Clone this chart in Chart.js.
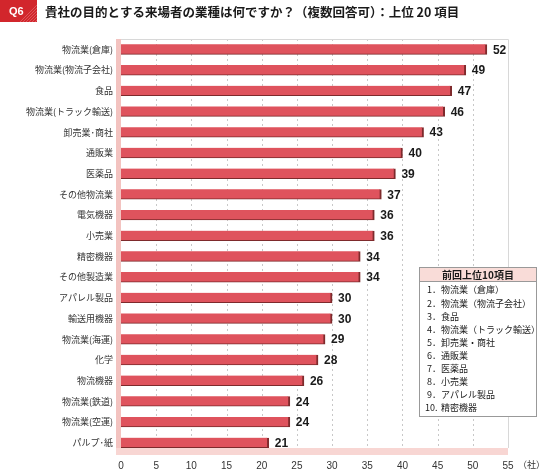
<!DOCTYPE html>
<html>
<head>
<meta charset="utf-8">
<script src="https://cdn.jsdelivr.net/npm/chart.js@4"></script>
<style>
  html, body { margin: 0; padding: 0; background: #fff; }
  #wrap { width: 541px; height: 469px; position: relative; }
</style>
</head>
<body>
<div id="wrap"><canvas id="chart" width="541" height="469"></canvas></div>
<script>
// categories and values, top to bottom
const categories = [
    '物流業(倉庫)', '物流業(物流子会社)', '食品', '物流業(トラック輸送)', '卸売業･商社',
    '通販業', '医薬品', 'その他物流業', '電気機器', '小売業',
    '精密機器', 'その他製造業', 'アパレル製品', '輸送用機器', '物流業(海運)',
    '化学', '物流機器', '物流業(鉄道)', '物流業(空運)', 'パルプ･紙'
];
const counts = [52, 49, 47, 46, 43, 40, 39, 37, 36, 36, 34, 34, 30, 30, 29, 28, 26, 24, 24, 21];
const xTicks = [0, 5, 10, 15, 20, 25, 30, 35, 40, 45, 50, 55];
const titleText = '貴社の目的とする来場者の業種は何ですか？（複数回答可）：上位 20 項目';
const prevTitle = '前回上位10項目';
const prevTop10 = [
    '物流業（倉庫）', '物流業（物流子会社）', '食品', '物流業（トラック輸送）', '卸売業・商社',
    '通販業', '医薬品', '小売業', 'アパレル製品', '精密機器'
];

const jpFont = '"Noto Sans CJK JP", "Noto Sans", sans-serif';
const numFont = '"Liberation Sans", Arial, sans-serif';

// dashed grid, pink wall / floor, frame lines, title and the inset box
const decorPlugin = {
    id: 'decor',
    beforeDatasetsDraw(chart) {
        const ctx = chart.ctx;
        const a = chart.chartArea;
        const xs = chart.scales.x;
        ctx.save();
        // dashed vertical grid
        ctx.strokeStyle = '#c8c8c8';
        ctx.lineWidth = 1;
        ctx.setLineDash([2, 3]);
        xTicks.slice(1, -1).forEach(function(v) {
            const px = Math.round(xs.getPixelForValue(v)) + 0.5;
            ctx.beginPath();
            ctx.moveTo(px, a.top);
            ctx.lineTo(px, a.bottom - 5);
            ctx.stroke();
        });
        ctx.setLineDash([]);
        ctx.fillStyle = '#f3c3c0';
        ctx.fillRect(a.left - 5, a.top, 5, a.bottom - a.top + 2);
        ctx.fillStyle = '#f8d6d3';
        ctx.fillRect(a.left - 5, a.bottom - 5, a.right - a.left + 5, 7);
        ctx.strokeStyle = '#d8d8d8';
        ctx.beginPath();
        ctx.moveTo(a.left, a.top + 0.5);
        ctx.lineTo(a.right + 0.5, a.top + 0.5);
        ctx.lineTo(a.right + 0.5, a.bottom - 5);
        ctx.stroke();
        ctx.restore();
    },
    afterDatasetsDraw(chart) {
        const ctx = chart.ctx;
        const meta = chart.getDatasetMeta(0);
        ctx.save();
        ctx.fillStyle = '#1a1a1a';
        ctx.font = 'bold 12px ' + numFont;
        ctx.textAlign = 'left';
        ctx.textBaseline = 'middle';
        meta.data.forEach(function(bar, i) {
            ctx.fillText(String(counts[i]), bar.x + 6, bar.y + 1);
        });
        ctx.restore();
    },
    afterDraw(chart) {
        const ctx = chart.ctx;
        ctx.save();

        // Q6 tab with hatched right part
        ctx.fillStyle = '#d2262c';
        ctx.fillRect(0, 0, 37, 22);
        ctx.beginPath();
        ctx.rect(0, 0, 37, 22);
        ctx.clip();
        ctx.strokeStyle = 'rgba(255,255,255,0.22)';
        ctx.lineWidth = 1;
        for (let k = 20; k < 60; k += 3) {
            ctx.beginPath();
            ctx.moveTo(k, 22);
            ctx.lineTo(k + 22, 0);
            ctx.stroke();
        }
        ctx.restore();
        ctx.save();
        ctx.fillStyle = '#fff';
        ctx.font = 'bold 11px ' + numFont;
        ctx.textBaseline = 'middle';
        ctx.fillText('Q6', 9, 12);

        // title
        ctx.fillStyle = '#1a1a1a';
        ctx.font = 'bold 12.5px ' + jpFont;
        ctx.fillText(titleText, 45, 12);

        // unit
        ctx.fillStyle = '#333';
        ctx.font = '9px ' + jpFont;
        ctx.fillText('（社）', 518, 465);

        // previous top 10 box
        const bx = 419.5, by = 267.5, bw = 117, bh = 149;
        ctx.fillStyle = '#fff';
        ctx.fillRect(bx, by, bw, bh);
        ctx.fillStyle = '#f9dcd8';
        ctx.fillRect(bx, by, bw, 14);
        ctx.strokeStyle = '#999';
        ctx.lineWidth = 1;
        ctx.strokeRect(bx, by, bw, bh);
        ctx.beginPath();
        ctx.moveTo(bx, by + 14);
        ctx.lineTo(bx + bw, by + 14);
        ctx.stroke();
        ctx.fillStyle = '#1a1a1a';
        ctx.font = 'bold 10px ' + jpFont;
        ctx.textAlign = 'center';
        ctx.fillText(prevTitle, bx + bw / 2, by + 7.5);
        ctx.textAlign = 'left';
        ctx.font = '9px ' + jpFont;
        prevTop10.forEach(function(name, i) {
            const y = 290 + i * 13.1;
            ctx.fillText((i + 1) + (i < 9 ? '．' : '.'), i < 9 ? 427 : 425, y);
            ctx.fillText(name, 441, y);
        });
        ctx.restore();
    }
};

new Chart(document.getElementById('chart').getContext('2d'), {
    type: 'bar',
    data: {
        labels: categories,
        datasets: [{
            data: counts,
            backgroundColor: '#df535d',
            borderColor: '#7e2a2c',
            borderWidth: { top: 0, right: 2, bottom: 1, left: 0 },
            borderSkipped: 'left',
            barThickness: 10
        }]
    },
    options: {
        indexAxis: 'y',
        responsive: false,
        animation: false,
        layout: { padding: { top: 39, right: 33, left: 0, bottom: 0 } },
        plugins: {
            legend: { display: false },
            tooltip: { enabled: false }
        },
        scales: {
            x: {
                min: 0,
                max: 55,
                afterBuildTicks(axis) {
                    axis.ticks = xTicks.map(v => ({ value: v }));
                },
                afterFit(axis) { axis.height = 16; },
                grid: { display: false, drawTicks: false },
                border: { display: false },
                ticks: {
                    padding: 7,
                    color: '#333',
                    font: { size: 10, family: numFont }
                }
            },
            y: {
                afterFit(axis) { axis.width = 121; },
                grid: { display: false, drawTicks: false },
                border: { display: false },
                ticks: {
                    padding: 8,
                    color: '#333',
                    font: { size: 9, family: jpFont }
                }
            }
        }
    },
    plugins: [decorPlugin]
});
</script>
</body>
</html>
